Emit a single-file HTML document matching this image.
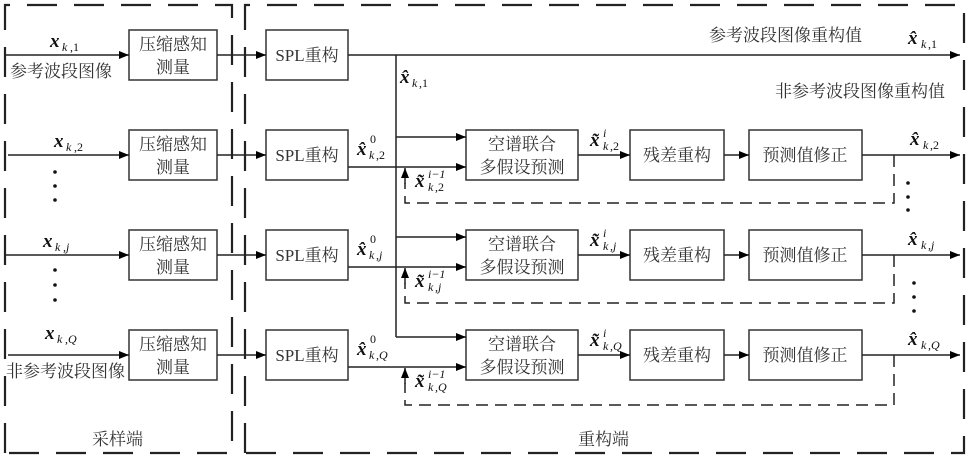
<!DOCTYPE html>
<html><head><meta charset="utf-8"><style>
html,body{margin:0;padding:0;background:#fff;}
svg{display:block;}
.cn{font-family:"Liberation Serif","Noto Serif CJK SC","Noto Sans CJK SC",serif;font-size:17px;fill:#333;}
.m{font-family:"Liberation Serif",serif;font-style:italic;font-weight:bold;font-size:19px;fill:#111;}
.s{font-family:"Liberation Serif",serif;font-style:italic;font-size:12px;fill:#111;}
.sn{font-family:"Liberation Serif",serif;font-size:12px;fill:#111;}
</style></head><body>
<svg width="969" height="459" viewBox="0 0 969 459" xmlns="http://www.w3.org/2000/svg">
<defs>
<marker id="a" viewBox="0 0 10 10" refX="10" refY="5" markerWidth="10" markerHeight="10" markerUnits="userSpaceOnUse" orient="auto"><path d="M0,1 L10,5 L0,9z" fill="#000"/></marker>
<marker id="au" viewBox="0 0 10 10" refX="10" refY="5" markerWidth="14" markerHeight="10" markerUnits="userSpaceOnUse" orient="auto"><path d="M0,1 L10,5 L0,9z" fill="#000"/></marker>
</defs>
<g fill="none" stroke="#222" stroke-width="2.2" stroke-dasharray="30,17">
<path d="M5,453 V5 H232 V453 H5"/>
<path d="M245,453 V5 H964 V453 H245"/>
</g>
<text class="cn" x="92" y="445">采样端</text>
<text class="cn" x="578" y="445">重构端</text>

<g stroke="#333" stroke-width="1.5" fill="#fff">
<rect x="129" y="30" width="88" height="50"/>
<rect x="129" y="130" width="88" height="50"/>
<rect x="129" y="230" width="88" height="50"/>
<rect x="129" y="330" width="88" height="50"/>
<rect x="266" y="30" width="82" height="50"/>
<rect x="266" y="130" width="82" height="50"/>
<rect x="266" y="230" width="82" height="50"/>
<rect x="266" y="330" width="82" height="50"/>
<rect x="466" y="130" width="112" height="50"/>
<rect x="630" y="130" width="94" height="50"/>
<rect x="749" y="130" width="113" height="50"/>
<rect x="466" y="230" width="112" height="50"/>
<rect x="630" y="230" width="94" height="50"/>
<rect x="749" y="230" width="113" height="50"/>
<rect x="466" y="330" width="112" height="50"/>
<rect x="630" y="330" width="94" height="50"/>
<rect x="749" y="330" width="113" height="50"/>
</g>

<g stroke="#222" stroke-width="1.5" fill="none">
<path d="M6,55 H129" marker-end="url(#a)"/>
<path d="M8,155 H129" marker-end="url(#a)"/>
<path d="M6,255 H129" marker-end="url(#a)"/>
<path d="M8,355 H129" marker-end="url(#a)"/>
<path d="M217,55 H266" marker-end="url(#a)"/>
<path d="M217,155 H266" marker-end="url(#a)"/>
<path d="M217,255 H266" marker-end="url(#a)"/>
<path d="M217,355 H266" marker-end="url(#a)"/>
<path d="M348,55 H960" marker-end="url(#a)"/>
<path d="M396,55 V337"/>
<path d="M396,137 H466" marker-end="url(#a)"/>
<path d="M396,237 H466" marker-end="url(#a)"/>
<path d="M396,337 H466" marker-end="url(#a)"/>
<path d="M348,167 H466" marker-end="url(#a)"/>
<path d="M348,267 H466" marker-end="url(#a)"/>
<path d="M348,367 H466" marker-end="url(#a)"/>
<path d="M578,155 H630" marker-end="url(#a)"/>
<path d="M724,155 H749" marker-end="url(#a)"/>
<path d="M862,155 H960" marker-end="url(#a)"/>
<path d="M578,255 H630" marker-end="url(#a)"/>
<path d="M724,255 H749" marker-end="url(#a)"/>
<path d="M862,255 H960" marker-end="url(#a)"/>
<path d="M578,355 H630" marker-end="url(#a)"/>
<path d="M724,355 H749" marker-end="url(#a)"/>
<path d="M862,355 H960" marker-end="url(#a)"/>
</g>
<g stroke="#222" stroke-width="1.5" fill="none" stroke-dasharray="12,7">
<path d="M894,155 V203 H405 V183"/>
<path d="M894,255 V303 H405 V283"/>
<path d="M894,355 V405 H405 V383"/>
</g>
<g stroke="#222" stroke-width="1.5" fill="none">
<path d="M405,184 V168" marker-end="url(#au)"/>
<path d="M405,284 V268" marker-end="url(#au)"/>
<path d="M405,384 V368" marker-end="url(#au)"/>
</g>

<g fill="#111">
<circle cx="55" cy="172" r="1.8"/><circle cx="55" cy="186" r="1.8"/><circle cx="55" cy="200" r="1.8"/>
<circle cx="55" cy="270" r="1.8"/><circle cx="55" cy="285" r="1.8"/><circle cx="55" cy="300" r="1.8"/>
<circle cx="908" cy="183" r="1.8"/><circle cx="908" cy="197" r="1.8"/><circle cx="908" cy="210" r="1.8"/>
<circle cx="914" cy="283" r="1.8"/><circle cx="914" cy="297" r="1.8"/><circle cx="914" cy="311" r="1.8"/>
</g>

<g class="cn" text-anchor="middle">
<text x="173" y="50">压缩感知</text><text x="173" y="73">测量</text>
<text x="173" y="150">压缩感知</text><text x="173" y="173">测量</text>
<text x="173" y="250">压缩感知</text><text x="173" y="273">测量</text>
<text x="173" y="350">压缩感知</text><text x="173" y="373">测量</text>
<text x="307" y="61">SPL重构</text>
<text x="307" y="161">SPL重构</text>
<text x="307" y="261">SPL重构</text>
<text x="307" y="361">SPL重构</text>
<text x="522" y="150">空谱联合</text><text x="522" y="173">多假设预测</text>
<text x="522" y="250">空谱联合</text><text x="522" y="273">多假设预测</text>
<text x="522" y="350">空谱联合</text><text x="522" y="373">多假设预测</text>
<text x="677" y="161">残差重构</text>
<text x="677" y="261">残差重构</text>
<text x="677" y="361">残差重构</text>
<text x="805" y="161">预测值修正</text>
<text x="805" y="261">预测值修正</text>
<text x="805" y="361">预测值修正</text>
</g>
<text class="cn" x="10" y="77">参考波段图像</text>
<text class="cn" x="6" y="377">非参考波段图像</text>
<text class="cn" x="709" y="41">参考波段图像重构值</text>
<text class="cn" x="775" y="97">非参考波段图像重构值</text>

<g>
<text class="m" x="50" y="47">x</text><text class="s" x="62" y="51">k</text><text class="sn" x="70" y="51">,1</text>
<text class="m" x="54" y="147">x</text><text class="s" x="66" y="151">k</text><text class="sn" x="74" y="151">,2</text>
<text class="m" x="43" y="247">x</text><text class="s" x="55" y="251">k</text><text class="s" x="63" y="251">,j</text>
<text class="m" x="45" y="339">x</text><text class="s" x="57" y="343">k</text><text class="s" x="65" y="343">,Q</text>

<text class="m" x="400" y="83">x̂</text><text class="s" x="412" y="87">k</text><text class="sn" x="419" y="87">,1</text>
<text class="m" x="357" y="155">x̂</text><text class="sn" x="370" y="143">0</text><text class="s" x="369" y="159">k</text><text class="sn" x="376" y="159">,2</text>
<text class="m" x="357" y="255">x̂</text><text class="sn" x="370" y="243">0</text><text class="s" x="369" y="259">k</text><text class="s" x="376" y="259">,j</text>
<text class="m" x="357" y="355">x̂</text><text class="sn" x="370" y="343">0</text><text class="s" x="369" y="359">k</text><text class="s" x="376" y="359">,Q</text>

<text class="m" x="415" y="187">x̃</text><text class="s" x="428" y="178">i−1</text><text class="s" x="428" y="191">k</text><text class="sn" x="435" y="191">,2</text>
<text class="m" x="415" y="287">x̃</text><text class="s" x="428" y="278">i−1</text><text class="s" x="428" y="291">k</text><text class="s" x="435" y="291">,j</text>
<text class="m" x="415" y="387">x̃</text><text class="s" x="428" y="378">i−1</text><text class="s" x="428" y="391">k</text><text class="s" x="435" y="391">,Q</text>

<text class="m" x="590" y="146">x̃</text><text class="s" x="603" y="137">i</text><text class="s" x="603" y="150">k</text><text class="sn" x="610" y="150">,2</text>
<text class="m" x="590" y="246">x̃</text><text class="s" x="603" y="237">i</text><text class="s" x="603" y="250">k</text><text class="s" x="610" y="250">,j</text>
<text class="m" x="590" y="346">x̃</text><text class="s" x="603" y="337">i</text><text class="s" x="603" y="350">k</text><text class="s" x="610" y="350">,Q</text>

<text class="m" x="908" y="44">x̂</text><text class="s" x="921" y="48">k</text><text class="sn" x="928" y="48">,1</text>
<text class="m" x="910" y="145">x̂</text><text class="s" x="923" y="149">k</text><text class="sn" x="930" y="149">,2</text>
<text class="m" x="908" y="245">x̂</text><text class="s" x="921" y="249">k</text><text class="s" x="928" y="249">,j</text>
<text class="m" x="908" y="345">x̂</text><text class="s" x="921" y="349">k</text><text class="s" x="928" y="349">,Q</text>
</g>
</svg>
</body></html>
